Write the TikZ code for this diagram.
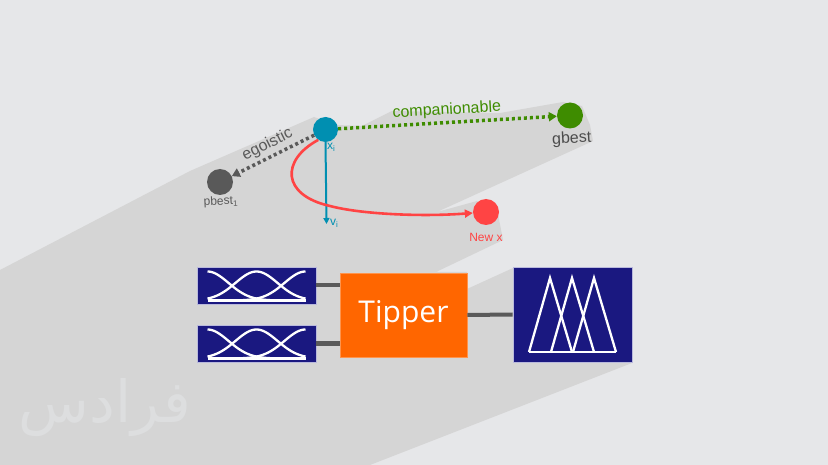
\documentclass[tikz,border=0pt]{standalone}
\usepackage{fontspec}
\setmainfont{Liberation Sans}
\newfontfamily\tipfont{Open Sans}
\newfontfamily\arabicfont[Script=Arabic]{DejaVu Sans}
\TeXXeTstate=1
\usetikzlibrary{arrows.meta,positioning}
\definecolor{bggray}{RGB}{230,231,233}
\definecolor{shadowgray}{RGB}{213,213,213}
\definecolor{wmgray}{RGB}{221,222,223}
\definecolor{partblue}{RGB}{0,143,177}
\definecolor{bestgreen}{RGB}{62,140,0}
\definecolor{bestgray}{RGB}{89,89,89}
\definecolor{newred}{RGB}{255,68,68}
\definecolor{mfnavy}{RGB}{26,24,128}
\definecolor{mfedge}{RGB}{185,185,220}
\definecolor{tiporange}{RGB}{255,102,0}
\definecolor{wiregray}{RGB}{90,90,90}
\begin{document}
\begin{tikzpicture}[x=1pt,y=-1pt,
                    dot/.style={circle,minimum size=25pt,inner sep=0pt},
                    lbl/.style={inner sep=0pt,font=\fontsize{12}{14}\selectfont},
                    biglbl/.style={inner sep=3pt,font=\fontsize{16}{18}\selectfont},
                    dotarrow/.style={line width=3.5pt,dash pattern=on 3pt off 3pt,-{Triangle[length=8pt,width=9pt]}},
                    moveline/.style={newred,line width=2.6pt,-{Triangle[length=8pt,width=8pt]}},
                    velline/.style={partblue,line width=2pt,-{Triangle[length=6pt,width=6pt]}},
                    mfbox/.style={fill=mfnavy,draw=mfedge,line width=0.8pt,minimum width=119pt,minimum height=37pt,inner sep=0pt},
                    mfcurve/.style={white,line width=2.3pt},
                    wire/.style={wiregray,line width=4pt}]
                    \useasboundingbox (0,0) rectangle (828,465);
                    \fill[bggray] (0,0) rectangle (828,465);
                    \fill[shadowgray] (0,270) -- (190,171) -- (314,117) -- (337,125) -- (362,126) -- (392,111) -- (500,113) -- (563,102) -- (582,106) -- (590,125) -- (593,141) -- (437,212) -- (477,201) -- (498,214) -- (503,240) -- (436,272) -- (467,272) -- (467,289) -- (513,268) -- (632,268) -- (632,363) -- (370,465) -- (0,465) -- cycle;
                    \node[text=wmgray,font=\arabicfont\fontsize{58}{60}\selectfont] (logo) at (105,408) {\beginR فرادس\endR};
                    \node[dot,fill=partblue] (xi) at (325.5,129.5) {};
                    \node[dot,fill=bestgray,minimum size=26pt] (pbest) at (220,182) {};
                    \node[dot,fill=bestgreen,minimum size=26pt] (gbest) at (570,115.5) {};
                    \node[dot,fill=newred,minimum size=26pt] (newx) at (486,212) {};
                    \coordinate (vi) at (326.5,224);
                    \draw[dotarrow,bestgray] (xi) -- node[biglbl,sloped,above,text=bestgray] (egolbl) {egoistic} (pbest);
                    \draw[dotarrow,bestgreen] (xi) -- node[biglbl,sloped,above,text=bestgreen] (complbl) {companionable} (gbest);
                    \draw[velline] (xi.south) -- (vi);
                    \draw[moveline] (xi.235) .. controls (281,160) and (281,195) .. (330,206) .. controls (360,214) and (420,217) .. (newx);
                    \node[lbl,text=partblue,anchor=base west] (xilbl) at (327,150) {x\textsubscript{i}};
                    \node[lbl,text=partblue,anchor=base west] (vilbl) at (330,226) {v\textsubscript{i}};
                    \node[lbl,text=bestgray,anchor=base,rotate=3] (pbestlbl) at (221,205) {pbest\textsubscript{1}};
                    \node[biglbl,inner sep=0pt,text=bestgray!85!black,anchor=base,rotate=3] (gbestlbl) at (572,143) {gbest};
                    \node[lbl,text=newred,anchor=base] (newxlbl) at (486,242) {New x};
                    \node[mfbox] (mfa) at (256.5,285.5) {};
                    \node[mfbox] (mfb) at (256.5,343.5) {};
                    \node[fill=tiporange,draw=tiporange!70!white,line width=0.6pt,minimum width=127pt,minimum height=84pt,text=white,font=\tipfont\fontsize{30}{32}\selectfont] (tipper) at (403.5,315) {Tipper};
                    \node[mfbox,minimum height=95pt] (mfout) at (572.5,314.5) {};
                    \draw[wire] (mfa.east) -- (mfa.east -| tipper.west);
                    \draw[wire] (mfb.east) -- (mfb.east -| tipper.west);
                    \draw[wire] (tipper.east) -- (mfout.west);
                    \foreach \mfin in {mfa,mfb} {
                        \draw[mfcurve,shift={(\mfin.center)}] (-49,15) -- (49,15);
                        \draw[mfcurve,domain=-49:30,samples=40,smooth,variable=\x,shift={(\mfin.center)}] plot ({\x},{15-29*exp(-((\x+49)^2)/882)});
                        \draw[mfcurve,domain=-49:49,samples=50,smooth,variable=\x,shift={(\mfin.center)}] plot ({\x},{15-29*exp(-((\x)^2)/882)});
                        \draw[mfcurve,domain=-30:49,samples=40,smooth,variable=\x,shift={(\mfin.center)}] plot ({\x},{15-29*exp(-((\x-49)^2)/882)});
                    }
                    \draw[mfcurve,shift={(mfout.center)}] (-43.5,37.5) -- (43.5,37.5);
                    \foreach \i in {0,1,2}
                        \draw[mfcurve,shift={(mfout.center)}] (-43.5+22*\i,37.5) -- (-22.5+22*\i,-36.5) -- (-0.5+22*\i,37.5);
                \end{tikzpicture}
\end{document}
